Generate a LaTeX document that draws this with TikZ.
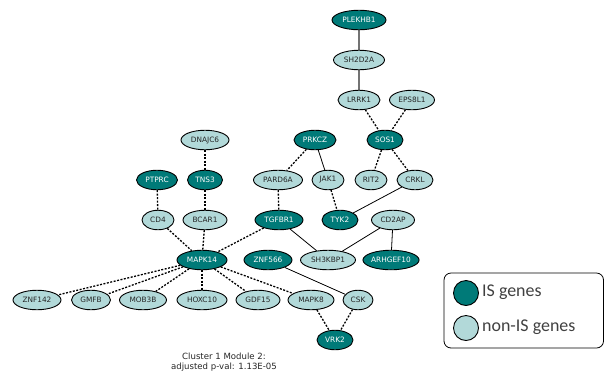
\documentclass[tikz,border=0pt]{standalone}
\usepackage{fontspec}
\setmainfont{DejaVu Sans}
\newfontfamily\legendfont{Carlito}
\usetikzlibrary{shapes.geometric,backgrounds}
\definecolor{isfill}{RGB}{0,122,120}
\definecolor{nonfill}{RGB}{178,217,217}
\definecolor{legtext}{RGB}{64,64,64}

\begin{document}
\begin{tikzpicture}[x=1bp,y=-1bp,
  gene/.style={ellipse, draw=black, line width=0.9bp, inner sep=0pt,
    minimum height=19.5bp, minimum width=#1, font=\fontsize{7.4}{8}\selectfont},
  isg/.style={gene=#1, fill=isfill, text=white},
  nis/.style={gene=#1, fill=nonfill, text=black!85},
  ppi/.style={draw=black, line width=1.3bp, dash pattern=on 2bp off 1.5bp},
  lnk/.style={draw=black, line width=0.8bp},
  lnkg/.style={draw=black!55, line width=1.4bp},
  legdot/.style={circle, draw=black, line width=0.9bp, minimum size=25bp, inner sep=0pt},
  legtxt/.style={anchor=west, inner sep=0pt, text=legtext, font=\legendfont\fontsize{18}{20}\selectfont}]

\useasboundingbox (0,0) rectangle (604,376);

% genes
\node[isg=54bp] (PLEKHB1) at (359,20) {PLEKHB1};
\node[nis=51bp] (SH2D2A)  at (359,60) {SH2D2A};
\node[nis=42bp] (LRRK1)   at (359,100) {LRRK1};
\node[nis=45bp] (EPS8L1)  at (412,100) {EPS8L1};
\node[isg=36bp] (SOS1)    at (385,140) {SOS1};
\node[isg=42bp] (PRKCZ)   at (315,140) {PRKCZ};
\node[nis=48bp] (DNAJC6)  at (205,140) {DNAJC6};
\node[isg=41bp] (PTPRC)   at (157,180) {PTPRC};
\node[isg=35bp] (TNS3)    at (205,180) {TNS3};
\node[nis=49bp] (PARD6A)  at (278,180) {PARD6A};
\node[nis=32bp] (JAK1)    at (328,180) {JAK1};
\node[nis=32bp] (RIT2)    at (371,180) {RIT2};
\node[nis=36bp] (CRKL)    at (415,180) {CRKL};
\node[nis=32bp] (CD4)     at (158,220) {CD4};
\node[nis=44bp] (BCAR1)   at (205,220) {BCAR1};
\node[isg=48bp] (TGFBR1)  at (279,220) {TGFBR1};
\node[isg=36bp] (TYK2)    at (340,220) {TYK2};
\node[nis=43bp] (CD2AP)   at (393,220) {CD2AP};
\node[isg=50bp] (MAPK14)  at (202,260) {MAPK14};
\node[isg=48bp] (ZNF566)  at (268,260) {ZNF566};
\node[nis=55bp] (SH3KBP1) at (328,260) {SH3KBP1};
\node[isg=53bp] (ARHGEF10) at (391,260) {ARHGEF10};
\node[nis=48bp] (ZNF142)  at (37,300) {ZNF142};
\node[nis=39bp] (GMFB)    at (91,300) {GMFB};
\node[nis=47bp] (MOB3B)   at (143,300) {MOB3B};
\node[nis=50bp] (HOXC10)  at (202,300) {HOXC10};
\node[nis=44bp] (GDF15)   at (258,300) {GDF15};
\node[nis=46bp] (MAPK8)   at (311,300) {MAPK8};
\node[nis=30bp] (CSK)     at (358,300) {CSK};
\node[isg=36bp] (VRK2)    at (335,340) {VRK2};

% interactions, drawn behind the genes
\begin{scope}[on background layer]
\path[lnkg] (PLEKHB1) -- (SH2D2A);
\path[lnkg] (SH2D2A) -- (LRRK1);
\path[ppi] (LRRK1) -- (SOS1);
\path[ppi] (EPS8L1) -- (SOS1);
\path[ppi] (SOS1) -- (RIT2);
\path[ppi] (SOS1) -- (CRKL);
\path[ppi] (PRKCZ) -- (PARD6A);
\path[lnk] (PRKCZ) -- (JAK1);
\path[ppi] (JAK1) -- (TYK2);
\path[lnk] (CRKL) -- (TYK2);
\path[ppi] (PARD6A) -- (TGFBR1);
\path[ppi] (DNAJC6) -- (TNS3);
\path[ppi] (PTPRC) -- (CD4);
\path[ppi] (TNS3) -- (BCAR1);
\path[ppi] (CD4) -- (MAPK14);
\path[ppi] (BCAR1) -- (MAPK14);
\path[ppi] (TGFBR1) -- (MAPK14);
\path[lnk] (TGFBR1) -- (SH3KBP1);
\path[lnk] (CD2AP) -- (SH3KBP1);
\path[lnk] (CD2AP) -- (ARHGEF10);
\path[ppi] (MAPK14) -- (ZNF142);
\path[ppi] (MAPK14) -- (GMFB);
\path[ppi] (MAPK14) -- (MOB3B);
\path[ppi] (MAPK14) -- (HOXC10);
\path[ppi] (MAPK14) -- (GDF15);
\path[ppi] (MAPK14) -- (MAPK8);
\path[lnk] (ZNF566) -- (CSK);
\path[ppi] (MAPK8) -- (VRK2);
\path[ppi] (CSK) -- (VRK2);
\end{scope}

% caption
\node[align=center, inner sep=0pt, font=\fontsize{8.6}{10}\selectfont, text=black!85]
  (caption) at (224,362) {Cluster 1 Module 2:\\adjusted p-val: 1.13E-05};

% legend
\draw[line width=0.8bp, rounded corners=7bp] (444,273) rectangle (603.5,348);
\node[legdot, fill=isfill] (legIS) at (466,293) {};
\node[legdot, fill=nonfill] (legNon) at (466,328) {};
\node[legtxt] (legIStext) at (482,292) {IS genes};
\node[legtxt] (legNontext) at (482,327) {non-IS genes};
\end{tikzpicture}
\end{document}
